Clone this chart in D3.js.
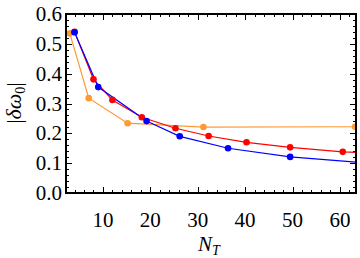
<!DOCTYPE html>
<html>
<head>
<meta charset="utf-8">
<script src="https://cdn.jsdelivr.net/npm/d3@7"></script>
<style>
  body { margin: 0; background: #fff; }
  svg text { font-family: "Liberation Serif", "DejaVu Serif", serif; }
</style>
</head>
<body>
<div id="chart"></div>
<script>
// series: [N_T, |delta omega_0|]
const blueData = [[4, 0.539], [9, 0.355], [19.2, 0.241], [26.2, 0.19], [36.4, 0.15], [49.5, 0.121], [64, 0.103]];
const redData = [[4, 0.54], [8, 0.381], [12, 0.312], [18.2, 0.254], [25.3, 0.217], [32.3, 0.191], [40.3, 0.17], [49.5, 0.153], [60.6, 0.138], [72, 0.13]];
const orangeData = [[3, 0.535], [7, 0.318], [15.2, 0.234], [31.2, 0.221], [63.2, 0.222]];

const xTicks = [10, 20, 30, 40, 50, 60];
const yTicks = [0, 0.1, 0.2, 0.3, 0.4, 0.5, 0.6];

const W = 360, H = 258;
const margin = { top: 14, right: 4, bottom: 65, left: 66 };

const svg = d3.select('#chart')
  .append('svg')
  .attr('width', W)
  .attr('height', H);

const x = d3.scaleLinear().domain([2.2, 63.4]).range([margin.left, W - margin.right]);
const y = d3.scaleLinear().domain([0, 0.6]).range([H - margin.bottom, margin.top]);

svg.append('clipPath').attr('id', 'clip')
  .append('rect')
  .attr('x', margin.left).attr('y', margin.top)
  .attr('width', W - margin.right - margin.left)
  .attr('height', H - margin.bottom - margin.top);

// ticks (inward, all four sides)
const xMinor = d3.range(4, 64, 2);
const yMinor = d3.range(0, 0.601, 0.02);
const tickG = svg.append('g').attr('stroke', '#000').attr('stroke-width', 1);

xMinor.forEach((v) => {
  const len = v % 10 === 0 ? 6 : 3;
  const px = Math.round(x(v)) + 0.5;
  tickG.append('line').attr('x1', px).attr('x2', px).attr('y1', y(0)).attr('y2', y(0) - len);
  tickG.append('line').attr('x1', px).attr('x2', px).attr('y1', y(0.6)).attr('y2', y(0.6) + len);
});
yMinor.forEach((v, i) => {
  const len = i % 5 === 0 ? 6 : 3;
  const py = Math.round(y(v)) + 0.5;
  tickG.append('line').attr('y1', py).attr('y2', py).attr('x1', x.range()[0]).attr('x2', x.range()[0] + len);
  tickG.append('line').attr('y1', py).attr('y2', py).attr('x1', x.range()[1]).attr('x2', x.range()[1] - len);
});

// series
const line = d3.line().x((d) => x(d[0])).y((d) => y(d[1]));
const plot = svg.append('g').attr('clip-path', 'url(#clip)');

const series = [
  { data: orangeData, color: '#ff9933' },
  { data: redData, color: '#ff0000' },
  { data: blueData, color: '#0000ff' },
];

series.forEach((s) => {
  plot.append('path')
    .datum(s.data)
    .attr('fill', 'none')
    .attr('stroke', s.color)
    .attr('stroke-width', 1.2)
    .attr('d', line);
});
series.forEach((s) => {
  plot.selectAll(null)
    .data(s.data)
    .enter()
    .append('circle')
    .attr('cx', (d) => x(d[0]))
    .attr('cy', (d) => y(d[1]))
    .attr('r', 3.3)
    .attr('fill', s.color);
});

// frame
svg.append('rect')
  .attr('x', x.range()[0])
  .attr('y', y(0.6))
  .attr('width', x.range()[1] - x.range()[0])
  .attr('height', y(0) - y(0.6))
  .attr('fill', 'none')
  .attr('stroke', '#000')
  .attr('stroke-width', 2);

// tick labels
svg.append('g').selectAll('text')
  .data(xTicks)
  .enter()
  .append('text')
  .attr('x', (d) => x(d))
  .attr('y', 227)
  .attr('text-anchor', 'middle')
  .attr('font-size', 21)
  .text((d) => d);

svg.append('g').selectAll('text')
  .data(yTicks)
  .enter()
  .append('text')
  .attr('x', 62)
  .attr('y', (d) => y(d) + 7)
  .attr('text-anchor', 'end')
  .attr('font-size', 21)
  .text((d) => d.toFixed(1));

// axis labels
const xl = svg.append('text')
  .attr('x', 198)
  .attr('y', 251)
  .attr('font-size', 21)
  .attr('font-style', 'italic');
xl.append('tspan').text('N');
xl.append('tspan').attr('font-size', 14).attr('dy', 4).text('T');

const yl = svg.append('text')
  .attr('transform', 'translate(21,103) rotate(-90)')
  .attr('text-anchor', 'middle')
  .attr('font-size', 22);
yl.append('tspan').text('|');
yl.append('tspan').attr('font-style', 'italic').text('δω');
yl.append('tspan').attr('font-size', 14).attr('dy', 4).text('0');
yl.append('tspan').attr('dy', -4).text('|');
</script>
</body>
</html>
